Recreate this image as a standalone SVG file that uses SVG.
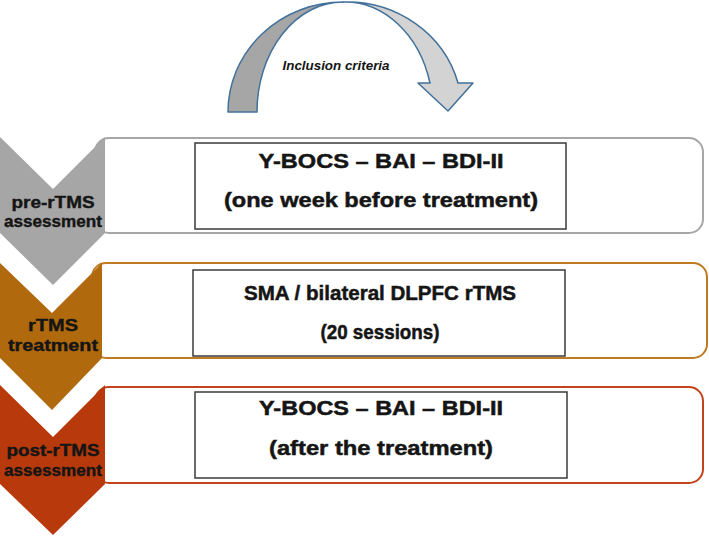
<svg xmlns="http://www.w3.org/2000/svg" width="709" height="538" viewBox="0 0 709 538">
<style>
.lbl{font-family:"Liberation Sans",Arial,sans-serif;font-weight:bold;font-size:16.5px;fill:#151515;stroke:#151515;stroke-width:0.4;text-anchor:middle}
.main{font-family:"Liberation Sans",Arial,sans-serif;font-weight:bold;font-size:21px;fill:#151515;stroke:#151515;stroke-width:0.5;text-anchor:middle}
.inner{fill:#fff;stroke:#3a3a3a;stroke-width:1.5}
.outer{fill:#fff;stroke-width:2}
</style>
<rect width="709" height="538" fill="#fff"/>
<g id="inclusion-arrow">
<path d="M228,112 A115,110 0 0 1 343,2 A86,110 0 0 0 257,112 Z" fill="#a6a6a6" stroke="#41719c" stroke-width="1.5" stroke-linejoin="round"/>
<path d="M343,2 A115,110 0 0 1 458,83 L473,83 L448,111 L418,83 L430,83 A88,110 0 0 0 343,2 Z" fill="#d3d3d3" stroke="#41719c" stroke-width="1.5" stroke-linejoin="round"/>
<text x="336" y="70" font-family="'Liberation Sans',Arial,sans-serif" font-weight="bold" font-style="italic" font-size="13" fill="#151515" text-anchor="middle" textLength="107" lengthAdjust="spacingAndGlyphs">Inclusion criteria</text>
</g>
<g id="row-pre">
<rect class="outer" x="95" y="138" width="608" height="95" rx="14" stroke="#a6a6a6"/>
<polygon points="0,137 53,189 105,137 105,233 53,285 0,233" fill="#a6a6a6"/>
<text class="lbl" x="53" y="208" textLength="83" lengthAdjust="spacingAndGlyphs">pre-rTMS</text>
<text class="lbl" x="53" y="227" textLength="98" lengthAdjust="spacingAndGlyphs">assessment</text>
<rect class="inner" x="195" y="143" width="371" height="86"/>
<text class="main" x="381" y="168" textLength="245" lengthAdjust="spacingAndGlyphs">Y-BOCS – BAI – BDI-II</text>
<text class="main" x="381" y="207" textLength="314" lengthAdjust="spacingAndGlyphs">(one week before treatment)</text>
</g>
<g id="row-treat">
<rect class="outer" x="92" y="263" width="615" height="95" rx="14" stroke="#c07a22"/>
<polygon points="0,263 52,313 102,263 102,358 52,410 0,358" fill="#b0690c"/>
<text class="lbl" x="53" y="331" textLength="50" lengthAdjust="spacingAndGlyphs">rTMS</text>
<text class="lbl" x="53" y="351" textLength="90" lengthAdjust="spacingAndGlyphs">treatment</text>
<rect class="inner" x="193" y="270" width="372" height="86"/>
<text class="main" x="380" y="300" textLength="272" lengthAdjust="spacingAndGlyphs">SMA / bilateral DLPFC rTMS</text>
<text class="main" x="380" y="339" textLength="119" lengthAdjust="spacingAndGlyphs">(20 sessions)</text>
</g>
<g id="row-post">
<rect class="outer" x="95" y="387" width="608" height="96" rx="14" stroke="#c2421a"/>
<polygon points="0,385 53,437 105,385 105,484 53,535 0,484" fill="#b83a0c"/>
<text class="lbl" x="53" y="456" textLength="93" lengthAdjust="spacingAndGlyphs">post-rTMS</text>
<text class="lbl" x="53" y="476" textLength="98" lengthAdjust="spacingAndGlyphs">assessment</text>
<rect class="inner" x="195" y="392" width="372" height="86"/>
<text class="main" x="381" y="415" textLength="244" lengthAdjust="spacingAndGlyphs">Y-BOCS – BAI – BDI-II</text>
<text class="main" x="381" y="455" textLength="224" lengthAdjust="spacingAndGlyphs">(after the treatment)</text>
</g>
<g id="connectors"></g>
</svg>
